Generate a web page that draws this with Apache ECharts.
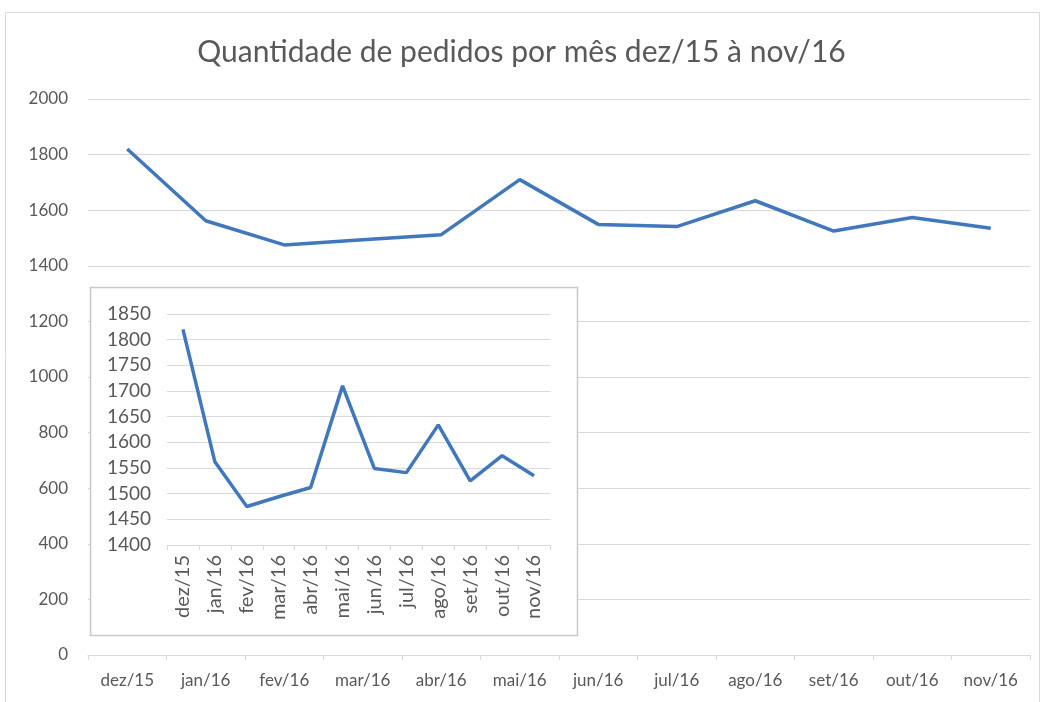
<!DOCTYPE html>
<html>
<head>
<meta charset="utf-8">
<script src="https://cdn.jsdelivr.net/npm/echarts@6/dist/echarts.min.js"></script>
<style>
  html, body { margin: 0; padding: 0; background: #fff; }
  #chart { width: 1043px; height: 702px; }
</style>
</head>
<body>
<div id="chart"></div>
<script>
const months = ['dez/15', 'jan/16', 'fev/16', 'mar/16', 'abr/16', 'mai/16', 'jun/16', 'jul/16', 'ago/16', 'set/16', 'out/16', 'nov/16']
const pedidos = [1820, 1562, 1475, 1494, 1512, 1710, 1549, 1541, 1634, 1525, 1574, 1535]

const font = 'Lato, "Open Sans", sans-serif'
const textColor = '#595959'
const gridColor = '#d9d9d9'
const lineColor = '#4177bd'

const chart = echarts.init(document.getElementById('chart'))

// eixos compartilhados entre o grafico principal e o detalhe
const catAxis = (gridIndex, extra) => Object.assign({
  type: 'category',
  gridIndex,
  data: months,
  boundaryGap: true,
  axisLine: { lineStyle: { color: gridColor } },
  axisTick: { show: true, alignWithLabel: false, length: 5, lineStyle: { color: gridColor } },
  axisLabel: { color: textColor, fontFamily: font, fontSize: 16 }
}, extra)

const valAxis = (gridIndex, extra) => Object.assign({
  type: 'value',
  gridIndex,
  axisLine: { show: false },
  axisTick: { show: false },
  splitLine: { lineStyle: { color: gridColor, width: 1 } }
}, extra)

const option = {
  animation: false,
  title: {
    text: 'Quantidade de pedidos por mês dez/15 à nov/16',
    left: 'center',
    top: 32,
    textStyle: { color: textColor, fontFamily: font, fontSize: 30, fontWeight: 'normal' }
  },
  graphic: [
    {
      type: 'rect',
      shape: { x: 5.5, y: 12.5, width: 1034, height: 720 },
      style: { fill: 'none', stroke: gridColor, lineWidth: 1 },
      z: 0
    },
    {
      type: 'rect',
      shape: { x: 90.5, y: 287.5, width: 487, height: 348 },
      style: { fill: '#fff', stroke: '#c8c8c8', lineWidth: 1.5 },
      z: 5
    }
  ],
  grid: [
    { left: 88, top: 99, right: 13, bottom: 47 },
    { left: 167, top: 314, width: 383, height: 231 }
  ],
  xAxis: [
    catAxis(0, { axisLabel: { color: textColor, fontFamily: font, fontSize: 17, margin: 17 } }),
    catAxis(1, {
      z: 10,
      axisLabel: { color: textColor, fontFamily: font, fontSize: 20, rotate: 90, margin: 10 }
    })
  ],
  yAxis: [
    valAxis(0, {
      min: 0, max: 2000, interval: 200,
      axisLabel: { color: textColor, fontFamily: font, fontSize: 17, margin: 20, formatter: v => String(v) }
    }),
    valAxis(1, {
      min: 1400, max: 1850, interval: 50, z: 10,
      axisLabel: { color: textColor, fontFamily: font, fontSize: 19, margin: 16, formatter: v => String(v) }
    })
  ],
  series: [
    {
      type: 'line',
      xAxisIndex: 0,
      yAxisIndex: 0,
      data: pedidos,
      symbol: 'none',
      lineStyle: { color: lineColor, width: 3.5 },
      z: 2
    },
    {
      type: 'line',
      xAxisIndex: 1,
      yAxisIndex: 1,
      data: pedidos,
      symbol: 'none',
      lineStyle: { color: lineColor, width: 3.5 },
      z: 11
    }
  ]
}

chart.setOption(option)
</script>
</body>
</html>
